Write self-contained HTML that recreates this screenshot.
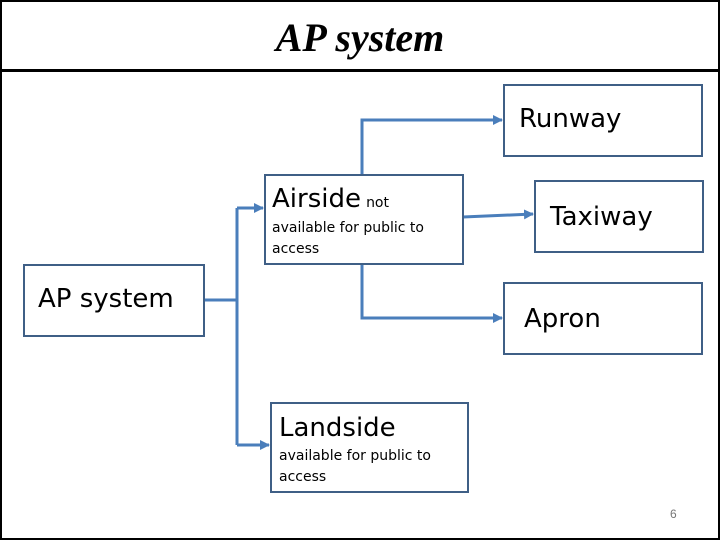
<!DOCTYPE html>
<html><head><style>
body{margin:0;width:720px;height:540px;position:relative;background:#fff;font-family:"Liberation Sans",sans-serif;overflow:hidden}
.frame{position:absolute;left:0;top:0;width:716px;height:536px;border:2px solid #000}
.hr{position:absolute;left:0;top:69px;width:720px;height:3px;background:#000}
.title{position:absolute;left:0;width:720px;top:14px;text-align:center;font:italic bold 40px "Liberation Serif",serif}
.b{position:absolute;border:2px solid #3f5f86;box-sizing:border-box;font-family:"DejaVu Sans","Liberation Sans",sans-serif;color:#000}
.s{font-size:14px;line-height:21px}
</style></head><body>
<div class="frame"></div><div class="hr"></div>
<div class="title">AP system</div>
<svg width="720" height="540" style="position:absolute;left:0;top:0">
<defs><marker id="a" markerWidth="10" markerHeight="10" refX="9" refY="5" orient="auto" markerUnits="userSpaceOnUse"><path d="M0,0L10,5L0,10z" fill="#4a7ebb"/></marker></defs>
<g stroke="#4a7ebb" stroke-width="3" fill="none">
<path d="M204,300H237"/>
<path d="M237,208V445"/>
<path d="M237,208H263" marker-end="url(#a)"/>
<path d="M237,445H269" marker-end="url(#a)"/>
<path d="M362,174V120H502" marker-end="url(#a)"/>
<path d="M463,217L533,214" marker-end="url(#a)"/>
<path d="M362,264V318H502" marker-end="url(#a)"/>
</g></svg>
<div class="b" style="left:503px;top:84px;width:200px;height:73px;font-size:26px;padding:18px 0 0 14px">Runway</div>
<div class="b" style="left:534px;top:180px;width:170px;height:73px;font-size:26px;padding:20px 0 0 14px">Taxiway</div>
<div class="b" style="left:503px;top:282px;width:200px;height:73px;font-size:26px;padding:20px 0 0 19px">Apron</div>
<div class="b" style="left:23px;top:264px;width:182px;height:73px;font-size:26px;padding:18px 0 0 13px">AP system</div>
<div class="b" style="left:264px;top:174px;width:200px;height:91px;padding:4px 0 0 6px"><span style="font-size:26px;line-height:38px">Airside</span> <span class="s">not</span><div class="s">available for public to<br>access</div></div>
<div class="b" style="left:270px;top:402px;width:199px;height:91px;padding:6px 0 0 7px"><div style="font-size:26px;line-height:36px">Landside</div><div class="s">available for public to<br>access</div></div>
<div style="position:absolute;left:670px;top:507px;font-size:12px;color:#777">6</div>
</body></html>
